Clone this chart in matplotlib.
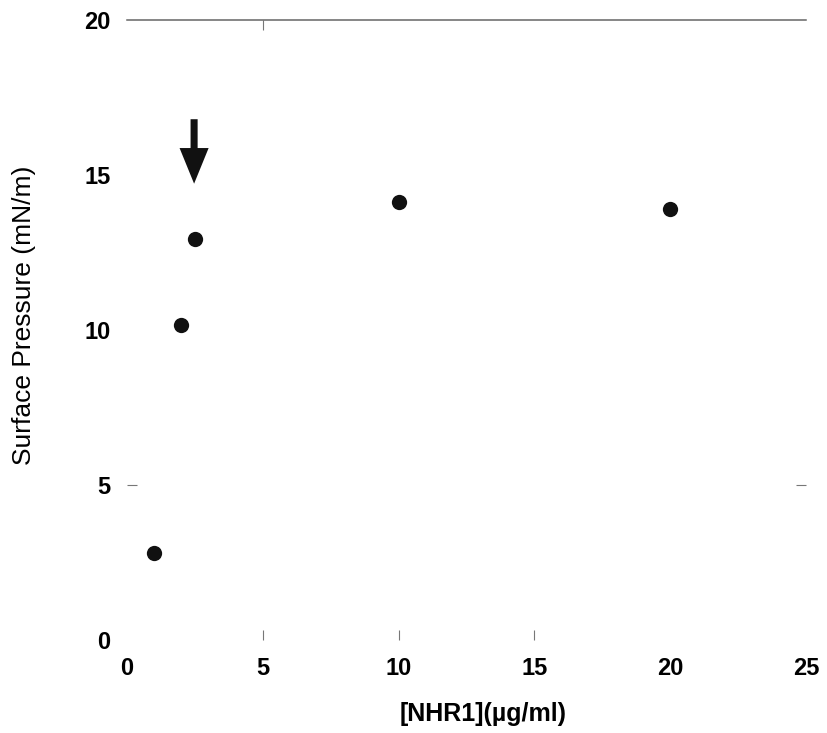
import matplotlib
matplotlib.use("Agg")
import matplotlib.pyplot as plt

# NHR1 concentration vs. surface pressure
conc = [1.0, 2.0, 2.5, 10.0, 20.0]
pressure = [2.8, 10.15, 12.95, 14.12, 13.9]

x_ticks = [0, 5, 10, 15, 20, 25]
y_ticks = [0, 5, 10, 15, 20]

# arrow pointing at the 2.5 ug/ml point
arrow_x = 2.47
arrow_top = 16.8
arrow_tip = 14.72

plt.rcParams["font.family"] = ["Liberation Sans", "DejaVu Sans"]

fig = plt.figure(figsize=(8.28, 7.33), dpi=100)
ax = fig.add_axes([0.1534, 0.1269, 0.82, 0.8458])

ax.plot(conc, pressure, "o", color="#111111", markersize=11, markeredgewidth=0)
ax.arrow(arrow_x, arrow_top, 0, arrow_tip - arrow_top, width=0.26,
         head_width=1.07, head_length=1.15, length_includes_head=True,
         color="#111111", lw=0)

ax.set_xlim(0, 25)
ax.set_ylim(0, 20)
ax.set_xticks(x_ticks)
ax.set_yticks(y_ticks)

for side in ("left", "right", "bottom"):
    ax.spines[side].set_visible(False)
ax.spines["top"].set_color("#666666")
ax.spines["top"].set_linewidth(1.1)

ax.tick_params(axis="both", direction="in", length=7.5, width=0.8,
               color="#777777", labelsize=17, top=True, right=True)
ax.tick_params(axis="x", pad=12)
ax.tick_params(axis="y", pad=12)
for lab in ax.get_xticklabels() + ax.get_yticklabels():
    lab.set_fontweight("bold")

# only a few tick marks survive in the original
for i, t in enumerate(ax.xaxis.get_major_ticks()):
    t.tick1line.set_visible(i in (1, 2, 3))
    t.tick2line.set_visible(i == 1)
for i, t in enumerate(ax.yaxis.get_major_ticks()):
    t.tick1line.set_visible(i == 1)
    t.tick2line.set_visible(i == 1)

ax.set_xlabel("[NHR1](\u00b5g/ml)", fontsize=18, fontweight="bold")
ax.xaxis.set_label_coords(0.525, -0.1)
ax.set_ylabel("Surface Pressure (mN/m)", fontsize=19, fontweight="medium")
ax.yaxis.set_label_coords(-0.134, 0.523)

fig.savefig("out.png", dpi=100)
